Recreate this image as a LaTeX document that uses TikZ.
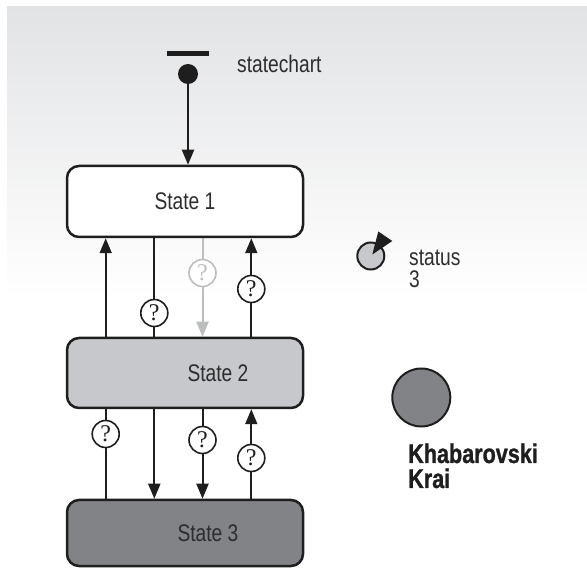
\documentclass[tikz,border=0pt]{standalone}
\usepackage{fontspec}
\setmainfont{Liberation Sans}
\newfontfamily\cond{Liberation Sans}[FakeStretch=0.8]
\newfontfamily\condb{Liberation Sans}[FakeStretch=0.8,FakeBold=1]
\newfontfamily\qfont{Liberation Serif}
\usetikzlibrary{arrows.meta,backgrounds}
\definecolor{bgtop}{RGB}{226,227,229}
\definecolor{ink}{RGB}{30,30,30}
\definecolor{txt}{RGB}{45,45,47}
\definecolor{lightfill}{RGB}{199,200,203}
\definecolor{darkfill}{RGB}{129,131,135}
\definecolor{greyc}{RGB}{188,189,191}
\tikzset{
  statebox/.style={draw=ink, line width=2.5pt, rounded corners=12pt,
    minimum width=236pt, inner sep=0pt, text=txt,
    font=\cond\fontsize{24}{24}\selectfont},
  conn/.style={draw=ink, line width=2pt, -{Triangle[length=15pt,width=12pt]}},
  gconn/.style={draw=greyc, line width=2pt, -{Triangle[length=15pt,width=12pt]}},
  qm/.style={circle, draw=ink, line width=1.6pt, fill=white, minimum size=27pt,
    inner sep=0pt, text=ink, font=\qfont\fontsize{24}{24}\selectfont},
  gqm/.style={qm, draw=greyc, text=greyc},
  lbl/.style={inner sep=0pt, text=txt, font=\cond\fontsize{24}{24}\selectfont},
}
\begin{document}
\begin{tikzpicture}[x=1pt,y=-1pt]
\useasboundingbox (0,0) rectangle (587,569);
% state boxes
\node[statebox, fill=white, minimum height=71pt] (s1) at (185,201.5) {State 1};
\node[statebox, fill=lightfill, minimum height=70pt] (s2) at (185,373) {\hspace*{66pt}State 2};
\node[statebox, fill=darkfill, minimum height=66pt] (s3) at (185,533) {\hspace*{46pt}State 3};
% x positions
\coordinate (xa) at (105.7,0);
\coordinate (xb) at (154.3,0);
\coordinate (xc) at (202.5,0);
\coordinate (xd) at (251.3,0);
\begin{scope}[on background layer]
  \shade[top color=bgtop, bottom color=white] (7,7) rectangle (587,298);
  \draw[conn] (xa |- s3.north) -- (xa |- s1.south);
  \draw[conn] (xb |- s1.south) -- (xb |- s3.north);
  \draw[gconn] (xc |- s1.south) -- (xc |- s2.north);
  \draw[conn] (xd |- s2.north) -- (xd |- s1.south);
  \draw[conn] (xc |- s2.south) -- (xc |- s3.north);
  \draw[conn] (xd |- s3.north) -- (xd |- s2.south);
\end{scope}
% question circles
\node[qm] (q1) at (105.7,434) {?};
\node[qm] (q2) at (154.3,313) {?};
\node[gqm] (q3) at (202.5,273) {?};
\node[qm] (q4) at (251.3,289) {?};
\node[qm] (q5) at (202.5,440) {?};
\node[qm] (q6) at (251.3,458) {?};
% initial
\node[fill=ink, minimum width=42pt, minimum height=5pt, inner sep=0pt] (bar) at (188,53.5) {};
\node[circle, fill=ink, minimum size=20pt, inner sep=0pt] (init) at (188,74) {};
\draw[conn] (init) -- (init |- s1.north);
\node[lbl, anchor=base west] (sc) at (237,73) {statechart};
% status
\node[circle, draw=ink, line width=2pt, fill=lightfill, minimum size=27pt, inner sep=0pt] (stat) at (370.8,256) {};
\coordinate (hd1) at (378.3,231.5);
\coordinate (hd2) at (392.3,241);
\fill[ink] ([shift={(1.5,-1.5)}]stat.center) -- (hd1) -- (hd2) -- cycle;
\node[lbl, anchor=base west, align=left] (st) at (409,288) {status\\[-2pt]3};
% Khabarovski
\node[circle, draw=ink, line width=2pt, fill=darkfill, minimum size=58pt, inner sep=0pt] (kh) at (421.3,397.5) {};
\node[inner sep=0pt, anchor=base west, align=left, text=ink,
  font=\condb\bfseries\fontsize{27}{25}\selectfont] (khl) at (408,488) {Khabarovski\\Krai};
\end{tikzpicture}
\end{document}
